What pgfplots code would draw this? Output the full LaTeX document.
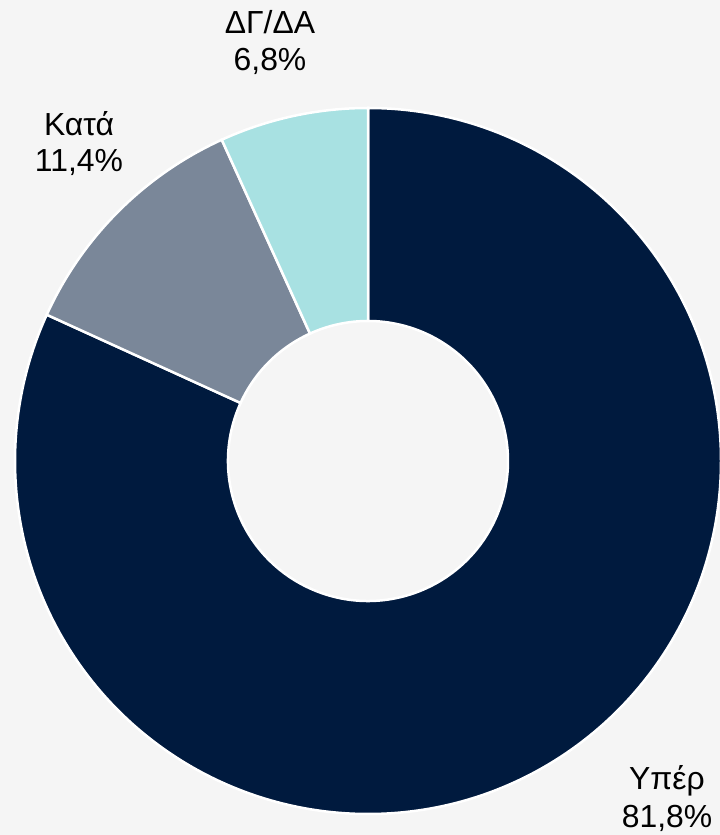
\documentclass[border=0pt]{standalone}
\usepackage{pgfplots}
\pgfplotsset{compat=1.18}
\usepackage{fontspec}
\setmainfont{Liberation Sans}

\definecolor{bgc}{HTML}{F5F5F5}
\definecolor{cnavy}{HTML}{001A3E}
\definecolor{cgray}{HTML}{7A8799}
\definecolor{ccyan}{HTML}{A8E1E2}

\begin{document}
\begin{tikzpicture}
\begin{axis}[
  scale only axis,
  width=720bp, height=835bp,
  xmin=0, xmax=720, ymin=0, ymax=835,
  hide axis, clip=true,
  ]
\fill[bgc] (axis cs:0,0) rectangle (axis cs:720,835);
% slices clockwise from the top: value / colour
\xdef\start{90}
\foreach \v/\c in {81.8/cnavy, 11.4/cgray, 6.8/ccyan}{
  \pgfmathsetmacro\stop{\start-3.6*\v}
  \pgfmathsetmacro\back{\stop+180}
  \edef\temp{\noexpand\fill[\c, draw=white, line width=2.5bp, line join=miter]
    (axis cs:368,374) ++(\start:353bp)
    arc[start angle=\start, end angle=\stop, radius=353bp]
    -- ++(\back:213bp)
    arc[start angle=\stop, end angle=\start, radius=140bp] -- cycle;}
  \temp
  \xdef\start{\stop}
}
\begin{scope}[every node/.style={font=\fontsize{32}{38}\selectfont, anchor=base, text=black, inner sep=0pt}]
\node at (axis cs:270,801) {ΔΓ/ΔΑ};
\node at (axis cs:270,764) {6,8\%};
\node at (axis cs:79,699) {Κατά};
\node at (axis cs:79,663) {11,4\%};
\node at (axis cs:667,45) {Υπέρ};
\node at (axis cs:667,8) {81,8\%};
\end{scope}
\end{axis}
\end{tikzpicture}
\end{document}
